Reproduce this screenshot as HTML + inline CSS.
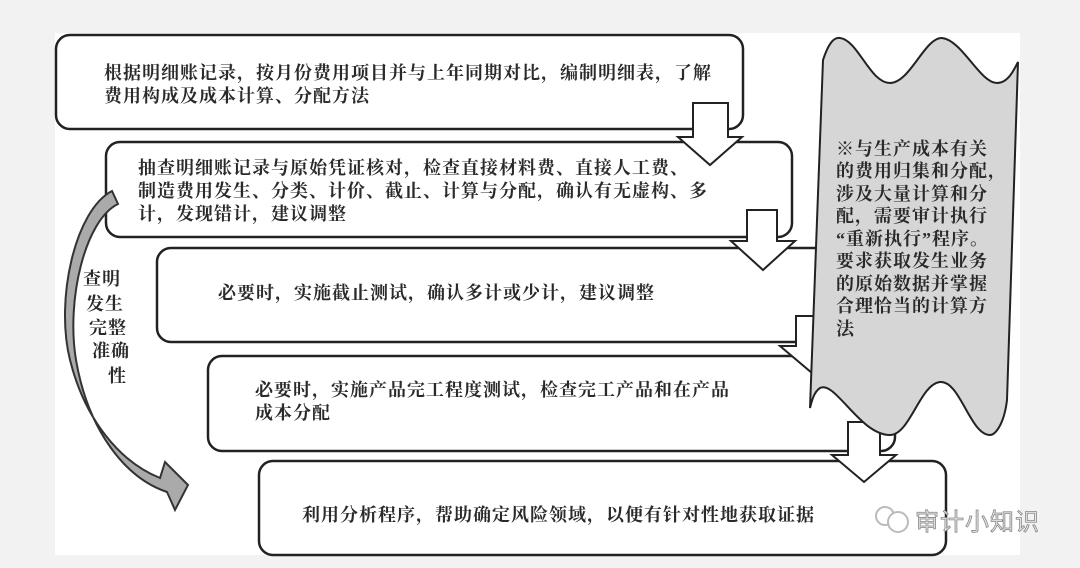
<!DOCTYPE html>
<html><head><meta charset="utf-8"><style>
html,body{margin:0;padding:0;background:#f2f2f2;}
svg{display:block;}
text{font-family:"Liberation Serif","Noto Serif CJK SC",serif;font-weight:700;fill:#2a2a2a;font-size:18px;letter-spacing:1px;}
</style></head><body>
<svg width="1080" height="568" viewBox="0 0 1080 568" xmlns="http://www.w3.org/2000/svg">
<rect x="0" y="0" width="1080" height="568" fill="#f2f2f2"/>
<rect x="55" y="33" width="965" height="522" fill="#fff"/>
<g fill="#fff" stroke="#222" stroke-width="2.5">
<rect x="56" y="35" width="687" height="94" rx="14"/>
<rect x="106" y="142" width="686" height="95" rx="14"/>
<rect x="157" y="248" width="681" height="94" rx="14"/>
<rect x="208" y="356" width="687" height="95" rx="14"/>
<rect x="259" y="461" width="687" height="94" rx="14"/>
</g>
<g fill="#fff" stroke="#222" stroke-width="2">
<path d="M693,103 L728,103 L728,137 L742,137 L710,165 L678,137 L693,137 Z"/>
<path d="M747,210 L777,210 L777,241 L795,241 L763,270 L731,241 L747,241 Z"/>
<path d="M796,316 L826,316 L826,346 L842,346 L812,373 L780,346 L796,346 Z"/>
<path d="M848,422 L880,422 L880,455 L896,455 L864,482 L832,455 L848,455 Z"/>
</g>
<path d="M823,60 C828,45 833,37 840,38 C858,40 870,83 890,83 C910,83 925,37 942,38 C962,40 980,83 997,83 C1008,83 1014,70 1018,62 L1007,400 C1004,425 995,435 990,435 C970,435 960,380 940,382 C920,384 910,435 890,435 C860,435 835,380 820,388 C814,392 812,400 810,408 Z" fill="#d6d6d6" stroke="#222" stroke-width="2"/>
<path d="M112,191 C75,210 55,300 70,360 C85,420 120,462 160,478 L165,462 L188,485 L175,510 L167,492 C125,478 88,430 76,360 C66,300 85,220 118,204 Z" fill="#aaa" stroke="#333" stroke-width="2"/>
<text x="104" y="79">根据明细账记录，按月份费用项目并与上年同期对比，编制明细表，了解</text>
<text x="104" y="102">费用构成及成本计算、分配方法</text>
<text x="138" y="174">抽查明细账记录与原始凭证核对，检查直接材料费、直接人工费、</text>
<text x="138" y="197">制造费用发生、分类、计价、截止、计算与分配，确认有无虚构、多</text>
<text x="138" y="220">计，发现错计，建议调整</text>
<text x="218" y="299">必要时，实施截止测试，确认多计或少计，建议调整</text>
<text x="255" y="396">必要时，实施产品完工程度测试，检查完工产品和在产品</text>
<text x="255" y="419">成本分配</text>
<text x="302" y="521">利用分析程序，帮助确定风险领域，以便有针对性地获取证据</text>
<g>
<text x="836" y="155">※与生产成本有关</text>
<text x="836" y="177">的费用归集和分配，</text>
<text x="836" y="200">涉及大量计算和分</text>
<text x="836" y="222">配，需要审计执行</text>
<text x="836" y="245">“重新执行”程序。</text>
<text x="836" y="267">要求获取发生业务</text>
<text x="836" y="290">的原始数据并掌握</text>
<text x="836" y="312">合理恰当的计算方</text>
<text x="836" y="335">法</text>
</g>
<g>
<text x="83" y="285">查明</text>
<text x="86" y="310">发生</text>
<text x="89" y="334">完整</text>
<text x="92" y="357">准确</text>
<text x="108" y="382">性</text>
</g>
<g>
<circle cx="885" cy="516" r="9" fill="none" stroke="#bbb" stroke-width="2"/>
<circle cx="898" cy="522" r="10" fill="#fff" stroke="#bbb" stroke-width="2"/>
<text x="915" y="530" style="font-family:'Liberation Sans','Noto Sans CJK SC',sans-serif;font-weight:400;font-size:24px;fill:#e6e6e6;stroke:#888;stroke-width:0.8;letter-spacing:1px">审计小知识</text>
</g>
</svg>
</body></html>
